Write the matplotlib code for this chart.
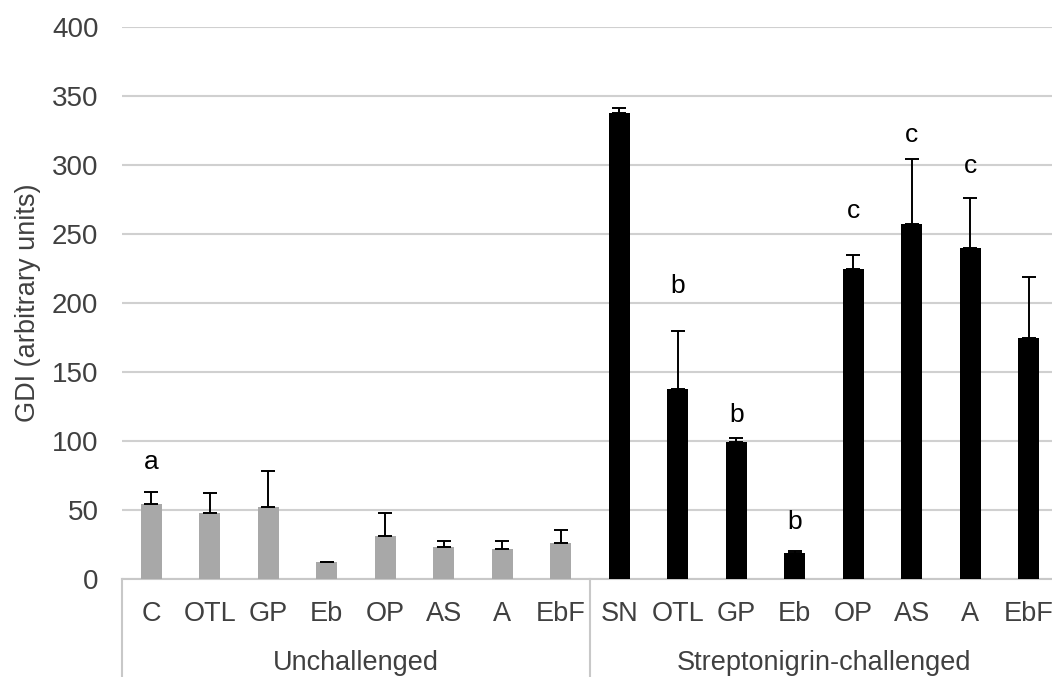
import matplotlib
matplotlib.use("Agg")
import matplotlib.pyplot as plt
import matplotlib.transforms as mtransforms
import numpy as np

plt.rcParams['font.family'] = ['Liberation Sans', 'DejaVu Sans']

categories = ["C", "OTL", "GP", "Eb", "OP", "AS", "A", "EbF",
              "SN", "OTL", "GP", "Eb", "OP", "AS", "A", "EbF"]
groups = ["Unchallenged", "Streptonigrin-challenged"]
unchallenged_vals = [54, 48, 52, 12, 31, 23, 21.5, 26]
unchallenged_err = [9, 14, 26, 0.5, 17, 4.5, 6, 9.5]
challenged_vals = [337.5, 138, 99.5, 19, 225, 257, 240, 175]
challenged_err = [3.5, 42, 2.5, 1, 10, 47, 36, 44]
letters = ["a", "", "", "", "", "", "", "",
           "", "b", "b", "b", "c", "c", "c", ""]
letter_y = [85, 0, 0, 0, 0, 0, 0, 0,
            0, 212, 119, 41, 267, 322, 299, 0]

values = unchallenged_vals + challenged_vals
errors = unchallenged_err + challenged_err
colors = ["#a8a8a8"] * 8 + ["#000000"] * 8

fig = plt.figure(figsize=(10.52, 6.77), dpi=100)
ax = fig.add_axes([122/1052, 98/677, 1 - 122/1052, (579-27)/677])

x = np.arange(len(categories))
ax.bar(x, values, width=0.36, color=colors, zorder=3)
ax.errorbar(x, values, yerr=[np.zeros(len(errors)), errors], fmt='none',
            ecolor='black', elinewidth=1.4, capsize=5, capthick=1.4, zorder=4)

for xi, lt, ly in zip(x, letters, letter_y):
    if lt:
        ax.text(xi, ly, lt, ha='center', va='center', fontsize=19, color='black')

ax.set_ylim(0, 400)
ax.set_xlim(-0.5, -0.5 + (1052 - 122) / 58.5)
ax.set_yticks(np.arange(0, 401, 50))
ax.yaxis.grid(True, color='#d0d0d0', linewidth=1.5, zorder=0)
ax.set_axisbelow(True)
for s in ['top', 'right', 'left']:
    ax.spines[s].set_visible(False)
ax.spines['bottom'].set_color('#c8c8c8')
ax.spines['bottom'].set_linewidth(1.5)
ax.tick_params(axis='y', length=0, pad=17, labelsize=20, labelcolor='#404040')
ax.set_xticks(x)
ax.set_xticklabels(categories)
ax.tick_params(axis='x', length=0, pad=16, labelsize=19.5, labelcolor='#404040')
ax.set_ylabel("GDI (arbitrary units)", fontsize=19.5, color='#404040', labelpad=8)

trans = mtransforms.blended_transform_factory(ax.transData, ax.transAxes)
for xv in [-0.5, 7.5, 15.5]:
    ax.plot([xv, xv], [0, -0.25], transform=trans, color='#c8c8c8',
            linewidth=1.5, clip_on=False)
ax.text(3.5, -0.152, groups[0], transform=trans, ha='center', va='center',
        fontsize=19.5, color='#404040')
ax.text(11.5, -0.152, groups[1], transform=trans, ha='center', va='center',
        fontsize=19.5, color='#404040')

fig.savefig("out.png", dpi=100)
